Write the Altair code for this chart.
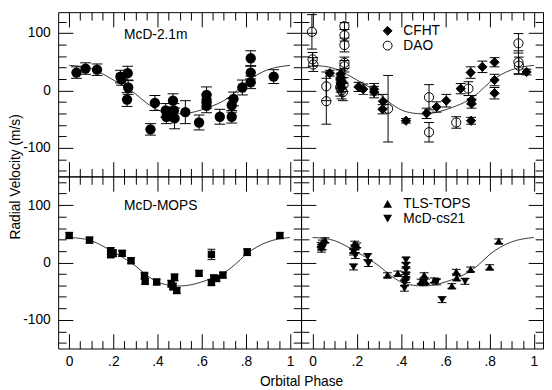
import altair as alt
import pandas as pd

# ---------------- fitted orbit curve ----------------
CURVE_PHASE = [0.00, 0.05, 0.10, 0.15, 0.20, 0.25, 0.30, 0.35, 0.40, 0.45, 0.50,
               0.55, 0.60, 0.65, 0.70, 0.75, 0.80, 0.85, 0.90, 0.95, 1.00]
CURVE_RV = [43.5, 42, 38, 29, 18, 7, -6, -22, -34, -39.5, -41,
            -39, -34, -27, -18, -4, 14, 27, 36, 41, 43.5]

# ---------------- McD-2.1m (top left) ----------------
P21 = [0.033, 0.074, 0.126, 0.232, 0.237, 0.265, 0.267, 0.262, 0.368, 0.388,
       0.437, 0.440, 0.452, 0.470, 0.474, 0.477, 0.526, 0.588, 0.622, 0.622,
       0.622, 0.682, 0.736, 0.736, 0.744, 0.784, 0.822, 0.822, 0.822, 0.926]
V21 = [31, 38, 36, 24, 19, 30, 5, -16, -68, -22,
       -35, -46, -41, -18, -35, -49, -38, -56, -8, -19,
       -27, -46, -46, -26, -15, 5, 56, 31, 14, 24]
E21 = [10, 10, 10, 11, 10, 12, 12, 12, 10, 13,
       12, 12, 12, 12, 12, 18, 20, 13, 14, 12,
       12, 13, 11, 12, 12, 13, 13, 11, 11, 12]

# ---------------- CFHT and DAO (top right) ----------------
PC = [0.078, 0.127, 0.127, 0.127, 0.127, 0.127, 0.133, 0.207, 0.229, 0.278,
      0.278, 0.318, 0.316, 0.422, 0.515, 0.560, 0.604, 0.669, 0.714, 0.718,
      0.718, 0.716, 0.767, 0.822, 0.822, 0.822, 0.967]
VC = [30, 28, 22, 17, 11, 5, 14, 6, 2, 2,
      -3, -19, -33, -53, -40, -29, -18, 3, 31, -17,
      -23, -53, 41, 49, 18, -5, 32]
EC = [5, 8, 8, 8, 8, 8, 8, 8, 9, 10,
      10, 12, 8, 4, 9, 9, 11, 9, 10, 8,
      8, 6, 10, 8, 10, 10, 5]

PD = [-0.003, 0.000, 0.003, 0.062, 0.062, 0.144, 0.144, 0.144, 0.144, 0.144,
      0.125, 0.131, 0.137, 0.140, 0.341, 0.526, 0.526, 0.649, 0.704, 0.930,
      0.930, 0.932]
VD = [102, 54, 45, 7, -19, 112, 96, 79, 48, 42,
      5, 0, -3, 10, -32, -12, -73, -56, 3, 82,
      49, 43]
ED = [30, 12, 12, 25, 40, 6, 10, 12, 10, 10,
      15, 15, 15, 12, 58, 22, 17, 10, 12, 17,
      20, 15]

# ---------------- McD-MOPS (bottom left) ----------------
PM = [0.000, 0.092, 0.188, 0.199, 0.188, 0.240, 0.280, 0.341, 0.344, 0.396,
      0.462, 0.477, 0.470, 0.487, 0.588, 0.644, 0.644, 0.655, 0.667, 0.696,
      0.806, 0.954]
VM = [47, 39, 20, 16, 14, 16, 3, -23, -33, -34,
      -37, -26, -42, -49, -19, 14, -35, -27, -28, -22,
      18, 47]
EM = [5, 5, 6, 6, 6, 5, 5, 6, 5, 5,
      6, 6, 6, 5, 5, 9, 5, 5, 5, 5,
      6, 5]

# ---------------- TLS-TOPS and McD-cs21 (bottom right) ----------------
PT = [0.038, 0.044, 0.056, 0.040, 0.190, 0.193, 0.185, 0.200, 0.338, 0.385,
      0.420, 0.504, 0.490, 0.510, 0.550, 0.629, 0.649, 0.651, 0.714, 0.800,
      0.841]
VT = [31, 35, 39, 27, 33, 27, 21, 30, -22, -19,
      -25, -22, -33, -33, -31, -41, -16, -27, -12, -8,
      37]
ET = [4, 4, 4, 4, 4, 4, 4, 4, 4, 4,
      4, 4, 4, 4, 4, 4, 4, 4, 4, 4,
      4]

PS = [0.040, 0.044, 0.185, 0.193, 0.185, 0.249, 0.252, 0.422, 0.422, 0.422,
      0.422, 0.422, 0.415, 0.415, 0.500, 0.560, 0.585, 0.689]
VS = [23, 27, 18, 12, -8, 10, -2, 4, -5, -13,
      -22, -30, -36, -45, -35, -34, -65, -33]
ES = [5, 5, 5, 5, 5, 5, 5, 5, 5, 5,
      5, 5, 5, 5, 5, 5, 5, 5]

INST_TR = ["CFHT", "DAO"]
INST_BR = ["TLS-TOPS", "McD-cs21"]
PANEL_TEXT = ["McD-2.1m", "McD-MOPS"]

TICK_X = [0.0, 0.05, 0.1, 0.15, 0.2, 0.25, 0.3, 0.35, 0.4, 0.45, 0.5,
          0.55, 0.6, 0.65, 0.7, 0.75, 0.8, 0.85, 0.9, 0.95, 1.0]
TICK_Y_TOP = [-140, -120, -100, -80, -60, -40, -20, 0, 20, 40, 60, 80, 100, 120]
TICK_Y_BOT = [-140, -120, -100, -80, -60, -40, -20, 0, 20, 40, 60, 80, 100, 120, 140]
LABEL_X = [0, 0.2, 0.4, 0.6, 0.8, 1]
LABEL_Y = [-100, 0, 100]

# ---------------- layout / style ----------------
FONT = "Liberation Sans"
W_L, W_R, H_T, H_B = 247, 246, 167, 175
X_DOM_L, X_DOM_R = [-0.05, 1.05], [-0.052, 1.041]
Y_DOM_T, Y_DOM_B = [-150, 136.3], [-150, 150]
MAJOR_X = {"condition": {"test": "round(datum.value * 100) % 20 == 0", "value": 15}, "value": 8}
MAJOR_Y = {"condition": {"test": "datum.value % 100 == 0", "value": 15}, "value": 8}
XEXPR = "datum.value == 0 ? '0' : datum.value == 1 ? '1' : replace(format(datum.value, '.1f'), '0.', '.')"
YEXPR = "'' + datum.value"

curve_df = pd.DataFrame({"phase": CURVE_PHASE, "rv": CURVE_RV})


def points_df(phase, rv, err, inst):
    return pd.DataFrame({
        "phase": phase, "rv": rv,
        "lo": [v - e for v, e in zip(rv, err)],
        "hi": [v + e for v, e in zip(rv, err)],
        "inst": [inst] * len(phase),
    })


def caps_df(df):
    a = df[["phase", "inst"]].assign(v=df["lo"])
    b = df[["phase", "inst"]].assign(v=df["hi"])
    return pd.concat([a, b], ignore_index=True)


def frame_axis(orient, offset, values, size):
    return alt.Axis(orient=orient, offset=offset, values=values, labels=False,
                    domain=False, grid=False, ticks=True, tickSize=size,
                    tickColor="black", tickWidth=1, title=None)


def x_label_axis(title=None, **kw):
    return alt.Axis(orient="bottom", values=LABEL_X, ticks=False, tickSize=0,
                    domain=False, grid=False, labelPadding=6, labelExpr=XEXPR,
                    labelFlush=False, title=title, **kw)


def y_label_axis(title=None, **kw):
    return alt.Axis(orient="left", values=LABEL_Y, ticks=False, tickSize=0,
                    domain=False, grid=False, labelPadding=8, labelExpr=YEXPR,
                    title=title, **kw)


def panel(df, point_chart, xdom, ydom, W, H, yticks, xlab, ylab, cap, extra=None):
    xs = alt.Scale(domain=xdom, nice=False, zero=False)
    ys = alt.Scale(domain=ydom, nice=False, zero=False)
    curve = alt.Chart(curve_df).mark_line(
        color="#222222", strokeWidth=0.9, interpolate="monotone"
    ).encode(
        x=alt.X("phase:Q", scale=xs, axis=xlab),
        y=alt.Y("rv:Q", scale=ys, axis=ylab),
    )
    bars = alt.Chart(df).mark_rule(color="black", strokeWidth=1).encode(
        x=alt.X("phase:Q", scale=xs, axis=frame_axis("top", -H, TICK_X, MAJOR_X)),
        y=alt.Y("lo:Q", scale=ys, axis=frame_axis("right", -W, yticks, MAJOR_Y)),
        y2="hi:Q",
    )
    caps = alt.Chart(caps_df(df)).mark_tick(
        orient="horizontal", size=cap, thickness=1, color="black", opacity=1
    ).encode(
        x=alt.X("phase:Q", scale=xs, axis=None),
        y=alt.Y("v:Q", scale=ys, axis=None),
    )
    pts = point_chart.encode(
        x=alt.X("phase:Q", scale=xs, axis=frame_axis("bottom", -H, TICK_X, MAJOR_X)),
        y=alt.Y("rv:Q", scale=ys, axis=frame_axis("left", -W, yticks, MAJOR_Y)),
    )
    layers = [curve, bars, caps, pts]
    if extra is not None:
        layers.append(extra)
    return alt.layer(*layers).resolve_axis(x="independent", y="independent").properties(width=W, height=H)


def label_text(text, ypix):
    return alt.Chart(pd.DataFrame({"label": [text]})).mark_text(
        align="left", baseline="alphabetic", font=FONT, fontSize=14, color="black"
    ).encode(x=alt.value(67), y=alt.value(ypix), text="label:N")


def legend(ly):
    return alt.Legend(orient="none", legendX=81, legendY=ly, title=None, padding=0,
                      rowPadding=1, labelFont=FONT, labelFontSize=14, labelColor="black",
                      labelOffset=9, symbolStrokeColor="black", symbolStrokeWidth=1,
                      symbolSize=81)


# ---- top left ----
df21 = points_df(P21, V21, E21, PANEL_TEXT[0])
pts21 = alt.Chart(df21).mark_point(filled=True, shape="circle", size=110, color="black", opacity=1)
TL = panel(df21, pts21, X_DOM_L, Y_DOM_T, W_L, H_T, TICK_Y_TOP, None,
           y_label_axis("Radial Velocity (m/s)", titleX=-43, titleY=H_T, titleAngle=270,
                        titleAlign="center", titleBaseline="middle"),
           11, label_text(PANEL_TEXT[0], 27))

# ---- top right ----
df_tr = pd.concat([points_df(PC, VC, EC, INST_TR[0]), points_df(PD, VD, ED, INST_TR[1])], ignore_index=True)
leg_tr = legend(12)
pts_tr = alt.Chart(df_tr).mark_point(size=88, opacity=1, strokeWidth=1).encode(
    shape=alt.Shape("inst:N", scale=alt.Scale(domain=INST_TR, range=["diamond", "circle"]), legend=leg_tr),
    fill=alt.Fill("inst:N", scale=alt.Scale(domain=INST_TR, range=["black", "transparent"]), legend=leg_tr),
    stroke=alt.Stroke("inst:N", scale=alt.Scale(domain=INST_TR, range=["black", "black"]), legend=leg_tr),
)
TR = panel(df_tr, pts_tr, X_DOM_R, Y_DOM_T, W_R, H_T, TICK_Y_TOP, None, None, 10)

# ---- bottom left ----
dfm = points_df(PM, VM, EM, PANEL_TEXT[1])
ptsm = alt.Chart(dfm).mark_point(filled=True, shape="square", size=56, color="black", opacity=1)
BL = panel(dfm, ptsm, X_DOM_L, Y_DOM_B, W_L, H_B, TICK_Y_BOT,
           x_label_axis("Orbital Phase", titleX=W_L, titleY=38, titleAlign="center",
                        titleBaseline="alphabetic"),
           y_label_axis(), 8, label_text(PANEL_TEXT[1], 34))

# ---- bottom right ----
df_br = pd.concat([points_df(PT, VT, ET, INST_BR[0]), points_df(PS, VS, ES, INST_BR[1])], ignore_index=True)
leg_br = legend(21)
pts_br = alt.Chart(df_br).mark_point(filled=True, size=72, color="black", opacity=1).encode(
    shape=alt.Shape("inst:N", scale=alt.Scale(domain=INST_BR, range=["triangle-up", "triangle-down"]),
                    legend=leg_br),
)
BR = panel(df_br, pts_br, X_DOM_R, Y_DOM_B, W_R, H_B, TICK_Y_BOT, x_label_axis(), None, 9)

res = dict(x="independent", y="independent", shape="independent", fill="independent",
           stroke="independent")

chart = alt.concat(TL, TR, BL, BR, columns=2, spacing=0, bounds="flush").resolve_scale(**res).properties(
    padding=0, background="white"
).configure_view(
    stroke="black", strokeWidth=1
).configure_axis(
    labelFont=FONT, labelFontSize=14, labelColor="black",
    titleFont=FONT, titleFontSize=14, titleFontWeight="normal", titleColor="black",
)

chart.save("out.html", embed_options={"renderer": "svg", "actions": False})
